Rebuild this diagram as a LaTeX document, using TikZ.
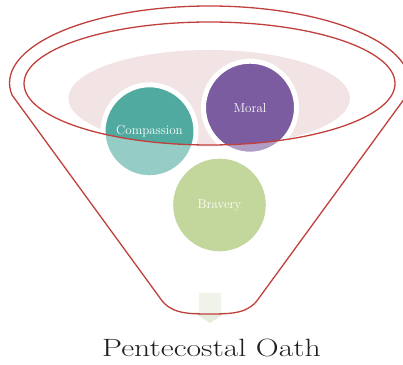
\documentclass[tikz,border=0pt]{standalone}
\usepackage{graphicx}
\definecolor{funnelred}{RGB}{192,64,60}
\definecolor{mouthpink}{RGB}{242,228,228}
\definecolor{tealc}{RGB}{80,170,160}
\definecolor{purplec}{RGB}{123,92,160}
\definecolor{greenc}{RGB}{155,187,89}
\definecolor{arrowgreen}{RGB}{230,236,220}
\tikzset{
  ball/.style={circle, minimum size=93pt, inner sep=0pt, draw=white, line width=5pt},
  balltext/.style={text=white, font=\fontsize{13}{15}\selectfont},
  rim/.style={draw=funnelred, line width=1.3pt},
}
\begin{document}
\begin{tikzpicture}[x=1pt,y=1pt]
\useasboundingbox (0,0) rectangle (403,364);
% funnel body outline, reused for the veil and the red line
\def\funnelpath{(12,269) arc[start angle=188.97, end angle=-8.97, x radius=200, y radius=77]
  -- (259,66) .. controls (249,51) and (234,50) .. (209.5,50)
  .. controls (185,50) and (170,51) .. (160,66) -- cycle}
% mouth of the funnel
\fill[mouthpink] (209.2,265.7) ellipse[x radius=140.8, y radius=48.3];
% arrow under the spout
\fill[arrowgreen] (199,71) -- (221,71) -- (221,52) -- (227,52) -- (210,41) -- (193,52) -- (199,52) -- cycle;
% the three balls
\node[ball, fill=tealc]   (comp) at (149.5,232.7) {};
\node[ball, fill=purplec] (moral) at (250,256.3) {};
\node[ball, fill=greenc, draw=none, minimum size=92.6pt] (brav) at (219.5,159) {};
% translucent front of the funnel, the mouth left clear
\fill[white, opacity=0.4, even odd rule] \funnelpath (209.5,280.5) ellipse[x radius=185.5, y radius=61.5];
% labels
\node[balltext] at (comp) {Compassion};
\node[balltext] at (moral) {Moral};
\node[balltext] at (brav) {Bravery};
% red outlines
\draw[rim] (209.5,280.5) ellipse[x radius=185.5, y radius=61.5];
\draw[rim] \funnelpath;
% caption
\node[anchor=base, text={rgb,255:red,30;green,30;blue,30}, font=\fontsize{25}{30}\selectfont, inner sep=0pt] (title) at (211.5,7.3) {\scalebox{1.27}[1]{Pentecostal Oath}};
\end{tikzpicture}
\end{document}
